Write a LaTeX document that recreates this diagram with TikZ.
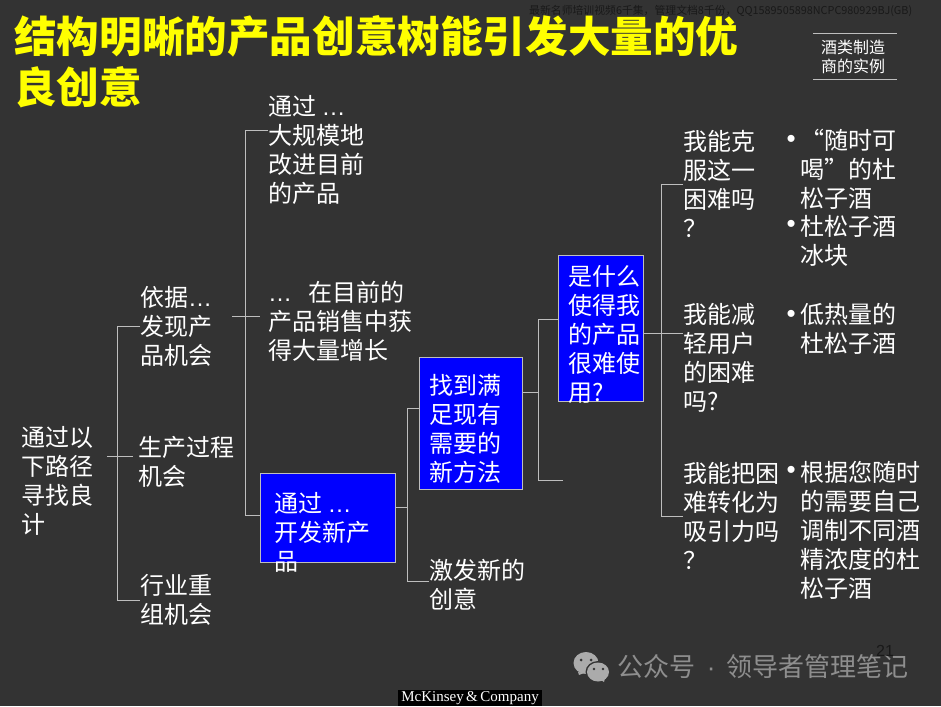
\documentclass[tikz,border=0pt]{standalone}
\usepackage{fontspec}
\setmainfont{Noto Sans CJK SC}
\newfontfamily\latinfont{Liberation Sans}
\newfontfamily\logofont{Liberation Serif}
\definecolor{slidegray}{HTML}{333333}
\definecolor{wiregray}{HTML}{BEBEBE}
\definecolor{markgray}{HTML}{8E8E8E}
\definecolor{icongray}{HTML}{ABABAB}
\definecolor{boxblue}{HTML}{0000FF}
\definecolor{titleyellow}{HTML}{FFFF00}
\newcommand{\lowdots}{{\latinfont\ldots}}
\tikzset{
    treetext/.style={anchor=west, align=left, inner sep=0pt, text=white, font=\fontsize{24}{29}\selectfont},
    bullettext/.style={anchor=base west, inner sep=0pt, text=white, font=\latinfont\fontsize{26}{29}\selectfont},
    bluebox/.style={draw=wiregray, fill=boxblue, line width=1pt, inner sep=0pt},
    wire/.style={draw=wiregray, line width=1pt}
}
\begin{document}
\begin{tikzpicture}[x=1pt, y=-1pt]
    \useasboundingbox [fill=slidegray] (0,0) rectangle (941,706);

    \node(toptitle) [anchor=west, align=left, inner sep=0pt, text=titleyellow, font=\fontsize{42.6}{51}\selectfont\bfseries] at (14,62) {结构明晰的产品创意树能引发大量的优\\良创意};
    \node(topnote) [anchor=west, inner sep=0pt, text=black!90, font=\fontsize{10.85}{12}\selectfont] at (529,11) {最新名师培训视频6千集，管理文档8千份，QQ1589505898NCPC980929BJ(GB)};
    \node(casetag) [align=center, inner sep=0pt, text=white, font=\fontsize{16}{19}\selectfont] at (853,57) {酒类制造\\商的实例};
    \coordinate (casetop) at (813,34);
    \coordinate (casebot) at (813,80);
    \draw [wire] (casetop) -- (casetop -| 897,0);
    \draw [wire] (casebot) -- (casebot -| 897,0);

    \node(rootnode) [treetext] at (21,480.5) {通过以\\下路径\\寻找良\\计};
    \node(findnode) [treetext] at (140,326) {依据\lowdots\\发现产\\品机会};
    \node(gennode) [treetext] at (138,462) {生产过程\\机会};
    \node(regroupnode) [treetext] at (140,600) {行业重\\组机会};

    \node(improvenode) [treetext] at (268,150) {通过 \lowdots\\大规模地\\改进目前\\的产品};
    \node(growthnode) [treetext] at (268,321) {\lowdots\ \ \ 在目前的\\产品销售中获\\得大量增长};
    \node(newbox) [bluebox, minimum width=135pt, minimum height=89pt] at (327.5,517.5) {};
    \node(newtext) [treetext] at (274,532.5) {通过 \lowdots\\开发新产\\品};

    \node(meetbox) [bluebox, minimum width=103pt, minimum height=132pt] at (470.5,423) {};
    \node(meettext) [treetext] at (429,428.5) {找到满\\足现有\\需要的\\新方法};
    \node(sparknode) [treetext] at (429,584.5) {激发新的\\创意};

    \node(hardbox) [bluebox, minimum width=85pt, minimum height=146pt] at (600.5,328) {};
    \node(hardtext) [treetext] at (568,334) {是什么\\使得我\\的产品\\很难使\\用?};

    \node(overcome) [treetext] at (683,183.5) {我能克\\服这一\\困难吗\\？};
    \node(ease) [treetext] at (683,357.5) {我能减\\轻用户\\的困难\\吗?};
    \node(turn) [treetext] at (683,515.5) {我能把困\\难转化为\\吸引力吗\\？};

    \node(dotone) [bullettext] at (786.5,147.6) {•};
    \node(anytime) [treetext] at (800,169) {“随时可\\喝”的杜\\松子酒};
    \node(dottwo) [bullettext] at (786.5,232.6) {•};
    \node(icecube) [treetext] at (800,240.5) {杜松子酒\\冰块};
    \node(dotthree) [bullettext] at (786.5,322) {•};
    \node(lowcal) [treetext] at (800,328.5) {低热量的\\杜松子酒};
    \node(dotfour) [bullettext] at (786.5,478) {•};
    \node(mixown) [treetext] at (800,530) {根据您随时\\的需要自己\\调制不同酒\\精浓度的杜\\松子酒};

    \coordinate (trunka) at (117,456);
    \coordinate (trunkb) at (245,316);
    \coordinate (trunkbtop) at (245,130);
    \coordinate (trunkbbot) at (245,515);
    \coordinate (trunkc) at (407,507);
    \coordinate (trunkctop) at (407,408);
    \coordinate (trunkcbot) at (407,581);
    \coordinate (trunkd) at (538,392);
    \coordinate (trunkdtop) at (538,319);
    \coordinate (trunkdbot) at (538,480);
    \coordinate (openend) at (563,480);
    \coordinate (trunke) at (661,333);
    \coordinate (trunketop) at (661,184);
    \coordinate (trunkebot) at (661,516);

    \draw [wire, shorten <=14pt, shorten >=5pt] (rootnode.east |- trunka) -- (gennode.west |- trunka);
    \draw [wire] (findnode.west) -- (trunka |- findnode.west) -- (trunka |- regroupnode.west) -- (regroupnode.west);

    \draw [wire, shorten <=20pt, shorten >=8pt] (findnode.east |- trunkb) -- (growthnode.west |- trunkb);
    \draw [wire] (improvenode.west |- trunkbtop) -- (trunkbtop) -- (trunkbbot) -- (newbox.west |- trunkbbot);

    \draw [wire] (newbox.east |- trunkc) -- (trunkc);
    \draw [wire] (meetbox.west |- trunkctop) -- (trunkctop) -- (trunkcbot) -- (sparknode.west |- trunkcbot);

    \draw [wire] (meetbox.east |- trunkd) -- (trunkd);
    \draw [wire] (hardbox.west |- trunkdtop) -- (trunkdtop) -- (trunkdbot) -- (openend);

    \draw [wire] (hardbox.east |- trunke) -- (ease.west |- trunke);
    \draw [wire] (overcome.west |- trunketop) -- (trunketop) -- (trunkebot) -- (turn.west |- trunkebot);

    % wechat mark
    \fill [icongray] (586,663) ellipse (12.5pt and 11pt);
    \fill [icongray] (578,672) -- (579,675) -- (584,673) -- cycle;
    \fill [slidegray] (598,672) ellipse (12.5pt and 11pt);
    \fill [icongray] (598,672) ellipse (11pt and 9.5pt);
    \fill [icongray] (601,680) -- (604,682) -- (605,678) -- cycle;
    \fill [slidegray] (581,660) circle (1.5pt) (591,660) circle (1.5pt) (594,669) circle (1.4pt) (603,669) circle (1.4pt);
    \node(watermark) [anchor=west, inner sep=0pt, text=markgray, font=\fontsize{26}{29}\selectfont] at (617,667) {公众号{\latinfont\ \,·\,\ }领导者管理笔记};
    \node(pagenum) [inner sep=0pt, text=black!90, font=\latinfont\fontsize{16}{19}\selectfont] at (885,651) {21};

    \node(logo) [fill=black, text=white, inner sep=0pt, minimum width=144pt, minimum height=16pt, font=\logofont\fontsize{15}{16}\selectfont] at (470,698) {McKinsey\,\&\,Company};

\end{tikzpicture}
\end{document}
